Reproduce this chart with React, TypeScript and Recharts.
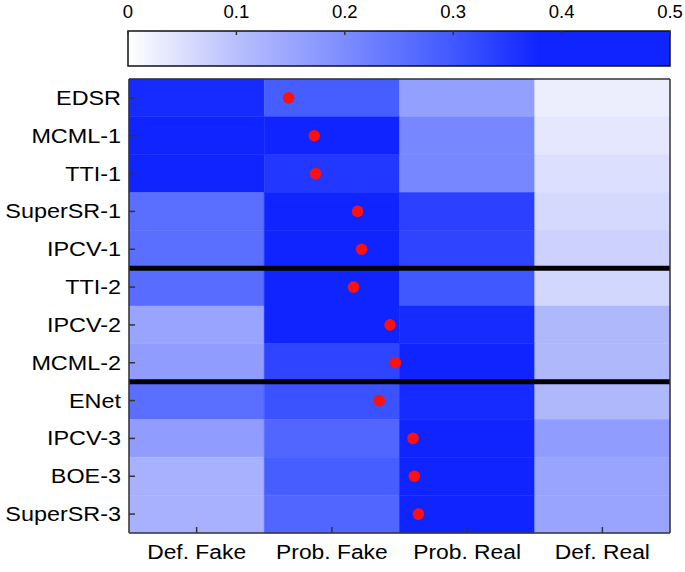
import React from 'react';
import {
  ComposedChart,
  BarChart,
  Bar,
  XAxis,
  YAxis,
  ReferenceArea,
  ReferenceLine,
  Scatter,
} from 'recharts';

// rows, top to bottom
const models = [
  'EDSR', 'MCML-1', 'TTI-1', 'SuperSR-1', 'IPCV-1',
  'TTI-2', 'IPCV-2', 'MCML-2',
  'ENet', 'IPCV-3', 'BOE-3', 'SuperSR-3',
];
const groupSizes = [5, 3, 4];

const columns = ['Def. Fake', 'Prob. Fake', 'Prob. Real', 'Def. Real'];

// share of votes per column
const defFake = [0.37, 0.45, 0.45, 0.257, 0.257, 0.26, 0.153, 0.167, 0.257, 0.167, 0.127, 0.127];
const probFake = [0.29, 0.40, 0.35, 0.38, 0.40, 0.45, 0.45, 0.33, 0.31, 0.273, 0.29, 0.273];
const probReal = [0.16, 0.21, 0.21, 0.335, 0.33, 0.30, 0.37, 0.45, 0.37, 0.45, 0.45, 0.45];
const defReal = [0.027, 0.037, 0.05, 0.06, 0.072, 0.063, 0.113, 0.113, 0.113, 0.167, 0.153, 0.153];

// mean rating, 1 = Def. Fake ... 4 = Def. Real
const meanScore = [1.68, 1.87, 1.88, 2.19, 2.22, 2.16, 2.43, 2.47, 2.35, 2.60, 2.61, 2.64];

const colorTicks = [0, 0.1, 0.2, 0.3, 0.4, 0.5];

// colour map stops: value -> rgb
const cmapStops: [number, number[]][] = [
  [0, [255, 255, 255]],
  [0.1, [184, 191, 252]],
  [0.2, [124, 140, 255]],
  [0.3, [64, 88, 255]],
  [0.38, [16, 36, 255]],
  [0.5, [16, 36, 255]],
];

const cmap = (v: number) => {
  for (let i = 1; i < cmapStops.length; i++) {
    const [v0, c0] = cmapStops[i - 1];
    const [v1, c1] = cmapStops[i];
    if (v <= v1 || i === cmapStops.length - 1) {
      const t = Math.max(0, Math.min(1, (v - v0) / (v1 - v0)));
      const c = c0.map((a, k) => Math.round(a + (c1[k] - a) * t));
      return `rgb(${c[0]},${c[1]},${c[2]})`;
    }
  }
  return '#fff';
};

const matrix = [defFake, probFake, probReal, defReal];
const cells = models.flatMap((_, r) =>
  matrix.map((col, c) => ({ r, c, v: col[r] }))
);
const dots = meanScore.map((s, r) => ({ x: s - 0.5, y: r + 0.5 }));
const separators = groupSizes.slice(0, -1).map((_, i) =>
  groupSizes.slice(0, i + 1).reduce((a, b) => a + b, 0)
);
const rowTicks = models.map((_, i) => i + 0.5);
const colTicks = columns.map((_, i) => i + 0.5);
const colorbarData = [{ name: 'scale', max: colorTicks[colorTicks.length - 1] }];

const FONT = '"Liberation Sans", Arial, Helvetica, sans-serif';
const frame = { stroke: '#333', strokeWidth: 1.5 };

const LeftTick = (props: any) => {
  const { x, y, payload } = props;
  return (
    <text
      transform={`translate(${x},${y}) scale(1.2,1)`}
      textAnchor="end"
      dy="0.36em"
      fontSize={19.5}
      fontFamily={FONT}
      fill="#000"
    >
      {models[Math.floor(payload.value)]}
    </text>
  );
};

const BottomTick = (props: any) => {
  const { x, y, payload } = props;
  return (
    <text
      transform={`translate(${x},${y}) scale(1.17,1)`}
      textAnchor="middle"
      dy="0.716em"
      fontSize={19.5}
      fontFamily={FONT}
      fill="#000"
    >
      {columns[Math.floor(payload.value)]}
    </text>
  );
};

const BarTick = (props: any) => {
  const { x, y, payload } = props;
  return (
    <text x={x} y={y} textAnchor="middle" fontSize={18.5} fontFamily={FONT} fill="#000">
      {payload.value}
    </text>
  );
};

const NoTick = () => <g />;

const ColorBar = () => (
  <BarChart
    width={685}
    height={72}
    layout="vertical"
    data={colorbarData}
    barCategoryGap={0}
    margin={{ top: 30, right: 15, bottom: 6, left: 128 }}
  >
    <defs>
      <linearGradient id="cbar" x1="0" y1="0" x2="1" y2="0">
        {cmapStops.map(([v]) => (
          <stop key={v} offset={v / 0.5} stopColor={cmap(v)} />
        ))}
      </linearGradient>
    </defs>
    <XAxis
      type="number"
      orientation="top"
      domain={[0, 0.5]}
      ticks={colorTicks}
      height={1}
      axisLine={false}
      tickSize={-4}
      tickMargin={17}
      tickLine={frame}
      tick={<BarTick />}
      interval={0}
    />
    <YAxis type="category" dataKey="name" hide />
    <Bar
      dataKey="max"
      fill="url(#cbar)"
      stroke="#111"
      strokeWidth={1.5}
      isAnimationActive={false}
    />
  </BarChart>
);

export default function App() {
  return (
    <div style={{ position: 'absolute', left: 0, top: 0, width: 685, height: 572, background: '#fff' }}>
      <ColorBar />
      <ComposedChart width={685} height={500} margin={{ top: 6, right: 14, bottom: 38, left: 128 }}>
        {cells.map((d) => (
          <ReferenceArea
            key={`${d.r}-${d.c}`}
            x1={d.c}
            x2={d.c + 1}
            y1={d.r}
            y2={d.r + 1}
            fill={cmap(d.v)}
            fillOpacity={1}
            stroke={cmap(d.v)}
            strokeWidth={0.5}
          />
        ))}
        {separators.map((s) => (
          <ReferenceLine key={s} y={s} stroke="#000" strokeWidth={5} />
        ))}
        <XAxis
          type="number"
          dataKey="x"
          domain={[0, 4]}
          ticks={colTicks}
          interval={0}
          height={1}
          axisLine={frame}
          tickLine={frame}
          tickSize={-6}
          tickMargin={18}
          tick={<BottomTick />}
        />
        <XAxis
          xAxisId="top"
          type="number"
          dataKey="x"
          orientation="top"
          domain={[0, 4]}
          ticks={colTicks}
          interval={0}
          height={1}
          axisLine={frame}
          tickLine={frame}
          tickSize={-6}
          tick={<NoTick />}
        />
        <YAxis
          type="number"
          dataKey="y"
          domain={[0, 12]}
          reversed
          ticks={rowTicks}
          interval={0}
          width={1}
          axisLine={frame}
          tickLine={frame}
          tickSize={-6}
          tickMargin={14}
          tick={<LeftTick />}
        />
        <YAxis
          yAxisId="right"
          type="number"
          dataKey="y"
          orientation="right"
          domain={[0, 12]}
          reversed
          ticks={rowTicks}
          interval={0}
          width={1}
          axisLine={frame}
          tickLine={frame}
          tickSize={-6}
          tick={<NoTick />}
        />
        <Scatter
          data={dots}
          isAnimationActive={false}
          shape={(p: any) => <circle cx={p.cx} cy={p.cy} r={5.8} fill="#ff1010" />}
        />
      </ComposedChart>
    </div>
  );
}
